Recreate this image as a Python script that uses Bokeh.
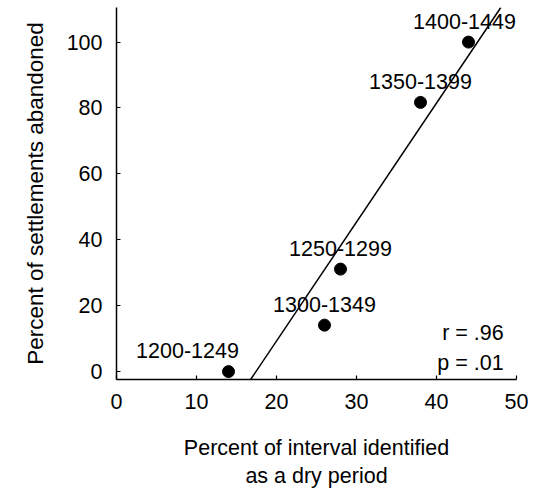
import numpy as np
from bokeh.plotting import figure
from bokeh.models import ColumnDataSource, Slope, Label, Range1d, FixedTicker
from bokeh.embed import file_html
from bokeh.resources import INLINE

periods = ["1200-1249", "1250-1299", "1300-1349", "1350-1399", "1400-1449"]
dry_pct = [14.0, 28.0, 26.0, 38.0, 44.0]
abandoned_pct = [0.0, 31.1, 14.1, 81.7, 100.0]
x_ticks = [0, 10, 20, 30, 40, 50]
y_ticks = [0, 20, 40, 60, 80, 100]
r_text = "r = .96"
p_text = "p = .01"

FONT = "Liberation Sans"
FS = "21.5px"

label_offsets = [-41, 0, 0, 0, -4]

src = ColumnDataSource(dict(x=dry_pct, y=abandoned_pct))

p = figure(width=542, height=492, output_backend="svg", toolbar_location=None,
           x_range=Range1d(0, 50), y_range=Range1d(-2.4, 110.5),
           min_border_left=116, min_border_right=26, min_border_top=7, min_border_bottom=113)
p.outline_line_color = None
p.xgrid.visible = False
p.ygrid.visible = False

for ax in (p.xaxis[0], p.yaxis[0]):
    ax.axis_line_color = "black"
    ax.axis_line_width = 1.5
    ax.major_tick_line_color = "black"
    ax.major_tick_line_width = 1.2
    ax.major_tick_in = 4
    ax.major_tick_out = 0
    ax.minor_tick_line_color = None
    ax.major_label_text_font = FONT
    ax.major_label_text_font_size = FS
    ax.major_label_text_color = "black"
    ax.axis_label_text_font = FONT
    ax.axis_label_text_font_style = "normal"
    ax.axis_label_text_color = "black"

p.xaxis.axis_label_text_font_size = "21.5px"
p.yaxis.axis_label_text_font_size = "22.5px"
p.xaxis.ticker = FixedTicker(ticks=x_ticks)
p.yaxis.ticker = FixedTicker(ticks=y_ticks)
p.xaxis.major_label_standoff = 14
p.yaxis.major_label_standoff = 14
p.xaxis.axis_label = "Percent of interval identified\nas a dry period"
p.yaxis.axis_label = "Percent of settlements abandoned"
p.xaxis.axis_label_standoff = 24
p.yaxis.axis_label_standoff = 16

slope, intercept = np.polyfit(np.array(dry_pct), np.array(abandoned_pct), 1)
p.add_layout(Slope(gradient=float(slope), y_intercept=float(intercept),
                   line_color="black", line_width=1.5))

p.scatter("x", "y", source=src, size=12, color="black")
for xv, yv, t, xo in zip(dry_pct, abandoned_pct, periods, label_offsets):
    p.add_layout(Label(x=xv, y=yv, text=t, x_offset=xo, y_offset=21,
                       text_align="center", text_baseline="middle",
                       text_font=FONT, text_font_size=FS, text_color="black"))

p.add_layout(Label(x=48.4, y=11.8, text=r_text, text_align="right", text_baseline="middle",
                   text_font=FONT, text_font_size=FS, text_color="black"))
p.add_layout(Label(x=48.4, y=2.6, text=p_text, text_align="right", text_baseline="middle",
                   text_font=FONT, text_font_size=FS, text_color="black"))

open("out.html", "w").write(file_html(p, INLINE))
